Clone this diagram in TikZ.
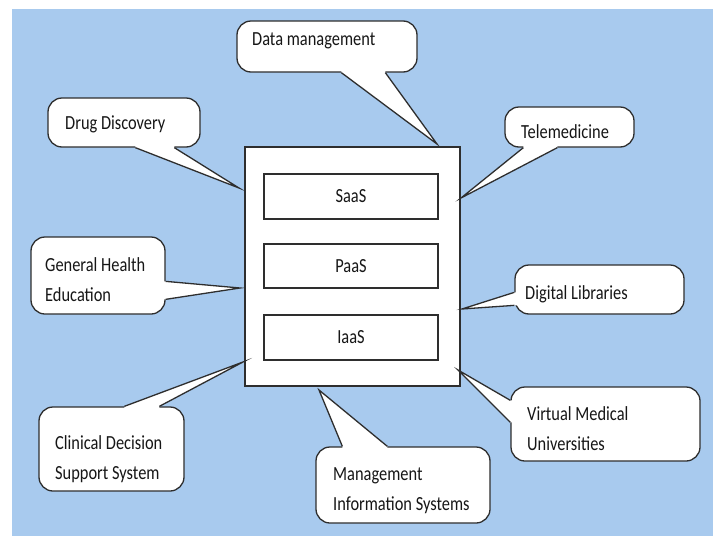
\documentclass[tikz,border=0pt]{standalone}
\usepackage{fontspec}
\newfontfamily\cfont{Carlito}[FakeStretch=0.82]
\definecolor{bgblue}{HTML}{A8CAEE}
\definecolor{linec}{HTML}{2E2E2E}
\definecolor{txtc}{HTML}{161616}
\tikzset{
  callbox/.style={draw=linec, line width=1.3pt, fill=white, rounded corners=14pt, inner sep=0pt},
  corebox/.style={draw=linec, line width=1.3pt, fill=white, inner sep=0pt},
  layerbox/.style={draw=linec, line width=1.3pt, fill=white, inner sep=0pt, text=txtc, font=\cfont\fontsize{20}{30}\selectfont},
  tailline/.style={draw=linec, line width=1.3pt, line join=miter, miter limit=20},
  lbl/.style={inner sep=0pt, anchor=base west, align=left, text=txtc, font=\cfont\fontsize{20}{30}\selectfont}
}
\begin{document}
\begin{tikzpicture}[x=1pt,y=-1pt]
\useasboundingbox (0,0) rectangle (713,536);
\fill[bgblue] (12,9) rectangle (713,536);

% central box and layers
\node[corebox, minimum width=215pt, minimum height=239pt] (core) at (352.5,266.5) {};
\node[layerbox, minimum width=174pt, minimum height=45pt] (saas) at (351,196.5) {SaaS};
\node[layerbox, minimum width=174pt, minimum height=44pt] (paas) at (351,266) {PaaS};
\node[layerbox, minimum width=174pt, minimum height=45pt] (iaas) at (351,337.5) {IaaS};

% tail tips
\coordinate (dmTip) at (437,144);
\coordinate (ddTip) at (239,188);
\coordinate (tmTip) at (461,198);
\coordinate (ghTip) at (240,288);
\coordinate (dlTip) at (462,309);
\coordinate (cdTip) at (243,362);
\coordinate (misTip) at (319,390);
\coordinate (vmTip) at (458,370);

% callout boxes
\node[callbox, minimum width=180pt, minimum height=51pt] (dm) at (327,46.5) {};
\node[callbox, minimum width=152pt, minimum height=49pt] (dd) at (124,122.5) {};
\node[callbox, minimum width=129pt, minimum height=40pt] (tm) at (569.5,127) {};
\node[callbox, minimum width=134pt, minimum height=77pt] (gh) at (98,275.5) {};
\node[callbox, minimum width=169pt, minimum height=49pt] (dl) at (599.5,289.5) {};
\node[callbox, minimum width=145pt, minimum height=84pt] (cd) at (111.5,449) {};
\node[callbox, minimum width=174pt, minimum height=76pt] (mis) at (403,485) {};
\node[callbox, minimum width=189pt, minimum height=74pt] (vm) at (605.5,424) {};

% tails: bottom side
\path ([xshift=105pt]dm.south west) coordinate (dmA) ([xshift=149pt]dm.south west) coordinate (dmB);
\fill[white] ([yshift=3pt]dmA) -- (dmA) -- (dmTip) -- (dmB) -- ([yshift=3pt]dmB) -- cycle;
\draw[tailline] (dmA) -- (dmTip) -- (dmB);

\path ([xshift=88pt]dd.south west) coordinate (ddA) ([xshift=127pt]dd.south west) coordinate (ddB);
\fill[white] ([yshift=3pt]ddA) -- (ddA) -- (ddTip) -- (ddB) -- ([yshift=3pt]ddB) -- cycle;
\draw[tailline] (ddA) -- (ddTip) -- (ddB);

\path ([xshift=19pt]tm.south west) coordinate (tmA) ([xshift=53pt]tm.south west) coordinate (tmB);
\fill[white] ([yshift=3pt]tmA) -- (tmA) -- (tmTip) -- (tmB) -- ([yshift=3pt]tmB) -- cycle;
\draw[tailline] (tmA) -- (tmTip) -- (tmB);

% tails: right side
\path ([yshift=-45pt]gh.north east) coordinate (ghA) ([yshift=-63pt]gh.north east) coordinate (ghB);
\fill[white] ([xshift=-3pt]ghA) -- (ghA) -- (ghTip) -- (ghB) -- ([xshift=-3pt]ghB) -- cycle;
\draw[tailline] (ghA) -- (ghTip) -- (ghB);

% tails: left side
\path ([yshift=-28pt]dl.north west) coordinate (dlA) ([yshift=-41pt]dl.north west) coordinate (dlB);
\fill[white] ([xshift=3pt]dlA) -- (dlA) -- (dlTip) -- (dlB) -- ([xshift=3pt]dlB) -- cycle;
\draw[tailline] (dlA) -- (dlTip) -- (dlB);

\path ([yshift=-14pt]vm.north west) coordinate (vmA) ([yshift=-36pt]vm.north west) coordinate (vmB);
\fill[white] ([xshift=3pt]vmA) -- (vmA) -- (vmTip) -- (vmB) -- ([xshift=3pt]vmB) -- cycle;
\draw[tailline] (vmA) -- (vmTip) -- (vmB);

% tails: top side
\path ([xshift=86pt]cd.north west) coordinate (cdA) ([xshift=121pt]cd.north west) coordinate (cdB);
\fill[white] ([yshift=-3pt]cdA) -- (cdA) -- (cdTip) -- (cdB) -- ([yshift=-3pt]cdB) -- cycle;
\draw[tailline] (cdA) -- (cdTip) -- (cdB);

\path ([xshift=27pt]mis.north west) coordinate (misA) ([xshift=72pt]mis.north west) coordinate (misB);
\fill[white] ([yshift=-3pt]misA) -- (misA) -- (misTip) -- (misB) -- ([yshift=-3pt]misB) -- cycle;
\draw[tailline] (misA) -- (misTip) -- (misB);

% texts (multi-line nodes are placed by the baseline of their last line)
\node[lbl] (dmT) at (252,45) {Data management};
\node[lbl] (ddT) at (65,129) {Drug Discovery};
\node[lbl] (tmT) at (521,138) {Telemedicine};
\node[lbl] (ghT) at (45,301) {General Health\\Education};
\node[lbl] (dlT) at (525,299) {Digital Libraries};
\node[lbl] (cdT) at (55,479) {Clinical Decision\\Support System};
\node[lbl] (misT) at (333,510) {Management\\Information Systems};
\node[lbl] (vmT) at (527,450) {Virtual Medical\\Universities};
\end{tikzpicture}
\end{document}
